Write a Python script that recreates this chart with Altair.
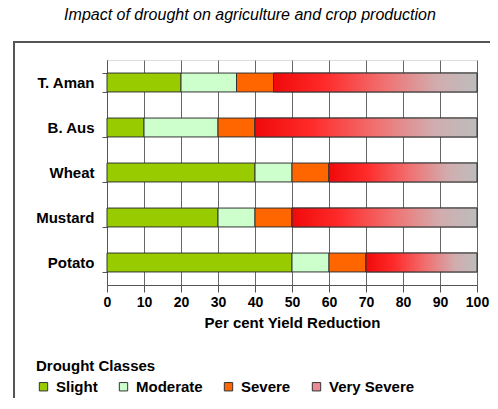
import altair as alt
import pandas as pd

crops = ["T. Aman", "B. Aus", "Wheat", "Mustard", "Potato"]
classes = ["Slight", "Moderate", "Severe", "Very Severe"]
slight = [20, 10, 40, 30, 50]
moderate = [15, 20, 10, 10, 10]
severe = [10, 10, 10, 10, 10]
very_severe = [55, 60, 40, 50, 30]
x_ticks = [0, 10, 20, 30, 40, 50, 60, 70, 80, 90, 100]
class_colors = ["#99cc00", "#ccffcc", "#ff6600", "#ec8a94"]
chart_title = "Impact of drought on agriculture and crop production"

rows = []
for i, crop in enumerate(crops):
    start = 0
    for cls, vals in zip(classes, [slight, moderate, severe, very_severe]):
        rows.append({"crop": crop, "cls": cls, "start": start, "end": start + vals[i]})
        start += vals[i]
df = pd.DataFrame(rows)

FONT = "Liberation Sans"

x_enc = alt.X(
    "start:Q",
    scale=alt.Scale(domain=[0, 100], nice=False),
    axis=alt.Axis(
        values=x_ticks, title="Per cent Yield Reduction", titleFontSize=15,
        titleFontWeight="bold", titleFont=FONT, titleColor="#000",
        labelFont=FONT, labelFontSize=14, labelFontWeight="bold", labelColor="#000",
        labelOverlap=False, labelFlush=False,
        tickSize=7, tickColor="#555", domainColor="#555", labelPadding=3,
        titlePadding=6, grid=True, gridColor="#666", gridWidth=1,
    ),
)
y_enc = alt.Y(
    "crop:N", sort=crops,
    scale=alt.Scale(paddingInner=0.58, paddingOuter=0.29),
    axis=alt.Axis(
        title=None, labelFont=FONT, labelFontSize=15, labelFontWeight="bold",
        labelColor="#000", tickBand="extent", tickSize=5, tickColor="#555",
        domainColor="#555", labelPadding=8, grid=False,
    ),
)

bars = alt.Chart(df).mark_bar(stroke="#333", strokeWidth=1).encode(
    x=x_enc,
    x2="end:Q",
    y=y_enc,
    color=alt.Color(
        "cls:N",
        scale=alt.Scale(domain=classes, range=class_colors),
        legend=alt.Legend(
            title="Drought Classes", orient="none", legendX=-71, legendY=299,
            direction="horizontal", symbolType="square", symbolSize=70,
            symbolStrokeColor="#333", symbolStrokeWidth=1,
            titleFont=FONT, titleFontSize=15, titleFontWeight="bold", titleColor="#000",
            labelFont=FONT, labelFontSize=15, labelFontWeight="bold", labelColor="#000",
            columnPadding=18, labelOffset=5, titlePadding=5,
        ),
    ),
)

gradient = alt.LinearGradient(
    gradient="linear", x1=0, x2=1, y1=0, y2=0,
    stops=[
        alt.GradientStop(offset=0, color="#f00a0a"),
        alt.GradientStop(offset=0.25, color="#ff2a2a"),
        alt.GradientStop(offset=0.55, color="#f07272"),
        alt.GradientStop(offset=0.8, color="#d2acae"),
        alt.GradientStop(offset=1, color="#bdbdbd"),
    ],
)

vs_bars = alt.Chart(df).transform_filter(alt.datum.cls == "Very Severe").mark_bar(
    fill=gradient, stroke="#333", strokeWidth=1
).encode(x=x_enc, x2="end:Q", y=y_enc)

dummy = pd.DataFrame({"a": [0]})
frame_top = alt.Chart(dummy).mark_rule(stroke="#555", strokeWidth=2).encode(
    x=alt.value(-94), x2=alt.value(400), y=alt.value(-18)
)
frame_left = alt.Chart(dummy).mark_rule(stroke="#555", strokeWidth=2).encode(
    x=alt.value(-93), y=alt.value(-19), y2=alt.value(350)
)

title = alt.Chart(pd.DataFrame({"t": [chart_title]})).mark_text(
    font=FONT, fontSize=16, fontStyle="italic", color="#000",
    align="center", baseline="middle",
).encode(text="t:N", x=alt.value(143), y=alt.value(-45))

chart = alt.layer(bars, vs_bars, frame_top, frame_left, title).properties(
    width=370, height=225,
    autosize=alt.AutoSizeParams(type="none"),
    padding={"left": 99, "top": 52, "right": 13, "bottom": 113},
).configure_view(stroke="#ccc").configure(background="white")

chart.save("out.html", embed_options={"renderer": "svg", "actions": False})
